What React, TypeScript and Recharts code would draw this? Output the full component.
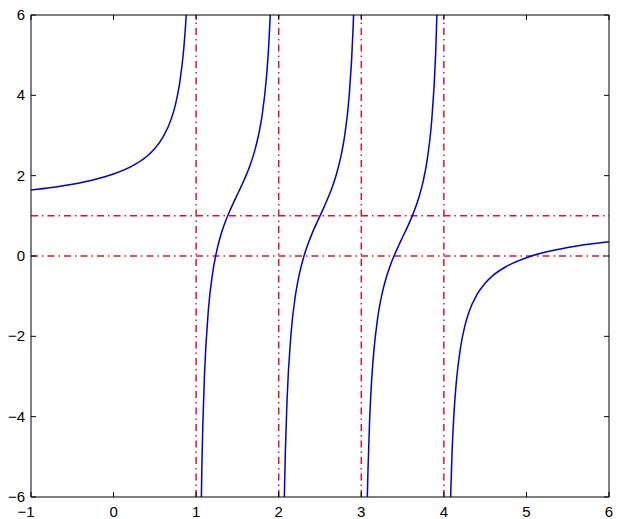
import React from "react";
import { LineChart, Line, XAxis, YAxis, ReferenceLine } from "recharts";

// x ticks, y ticks
const xTicks = [-1, 0, 1, 2, 3, 4, 5, 6];
const yTicks = [-6, -4, -2, 0, 2, 4, 6];

// vertical and horizontal guide lines
const verticalLines = [1, 2, 3, 4];
const horizontalLines = [0, 1];

// curve branches (x, y)
const branch1 = [
  { x: -1, y: 1.642 }, { x: -0.75, y: 1.706 }, { x: -0.5, y: 1.787 }, { x: -0.25, y: 1.894 },
  { x: 0, y: 2.042 }, { x: 0.25, y: 2.268 }, { x: 0.4, y: 2.477 }, { x: 0.5, y: 2.676 },
  { x: 0.6, y: 2.963 }, { x: 0.7, y: 3.42 }, { x: 0.75, y: 3.776 }, { x: 0.8, y: 4.3 },
  { x: 0.85, y: 5.159 }, { x: 0.88, y: 6.009 }, { x: 0.9, y: 6.854 }, { x: 0.92, y: 8.116 },
];
const branch2 = [
  { x: 1.05, y: -8.048 }, { x: 1.06, y: -6.374 }, { x: 1.07, y: -5.176 }, { x: 1.08, y: -4.275 },
  { x: 1.1, y: -3.009 }, { x: 1.15, y: -1.299 }, { x: 1.2, y: -0.419 }, { x: 1.25, y: 0.134 },
  { x: 1.3, y: 0.527 }, { x: 1.35, y: 0.832 }, { x: 1.4, y: 1.088 }, { x: 1.45, y: 1.317 },
  { x: 1.5, y: 1.533 }, { x: 1.55, y: 1.751 }, { x: 1.6, y: 1.982 }, { x: 1.65, y: 2.242 },
  { x: 1.7, y: 2.554 }, { x: 1.75, y: 2.956 }, { x: 1.8, y: 3.519 }, { x: 1.85, y: 4.413 },
  { x: 1.88, y: 5.281 }, { x: 1.9, y: 6.137 }, { x: 1.92, y: 7.41 }, { x: 1.93, y: 8.314 },
];
const branch3 = [
  { x: 2.06, y: -7.015 }, { x: 2.07, y: -5.814 }, { x: 2.08, y: -4.909 }, { x: 2.1, y: -3.636 },
  { x: 2.15, y: -1.91 }, { x: 2.2, y: -1.014 }, { x: 2.25, y: -0.448 }, { x: 2.3, y: -0.043 },
  { x: 2.35, y: 0.273 }, { x: 2.4, y: 0.539 }, { x: 2.45, y: 0.776 }, { x: 2.5, y: 1 },
  { x: 2.55, y: 1.224 }, { x: 2.6, y: 1.461 }, { x: 2.65, y: 1.727 }, { x: 2.7, y: 2.043 },
  { x: 2.75, y: 2.448 }, { x: 2.8, y: 3.014 }, { x: 2.85, y: 3.91 }, { x: 2.9, y: 5.636 },
  { x: 2.92, y: 6.909 }, { x: 2.94, y: 9.015 },
];
const branch4 = [
  { x: 3.06, y: -7.516 }, { x: 3.07, y: -6.314 }, { x: 3.08, y: -5.41 }, { x: 3.1, y: -4.137 },
  { x: 3.12, y: -3.281 }, { x: 3.15, y: -2.413 }, { x: 3.2, y: -1.519 }, { x: 3.25, y: -0.956 },
  { x: 3.3, y: -0.554 }, { x: 3.35, y: -0.242 }, { x: 3.4, y: 0.018 }, { x: 3.45, y: 0.249 },
  { x: 3.5, y: 0.467 }, { x: 3.55, y: 0.683 }, { x: 3.6, y: 0.912 }, { x: 3.65, y: 1.168 },
  { x: 3.7, y: 1.473 }, { x: 3.75, y: 1.866 }, { x: 3.8, y: 2.419 }, { x: 3.85, y: 3.299 },
  { x: 3.9, y: 5.009 }, { x: 3.92, y: 6.275 }, { x: 3.93, y: 7.176 },
];
const branch5 = [
  { x: 4.07, y: -7.015 }, { x: 4.08, y: -6.116 }, { x: 4.1, y: -4.854 }, { x: 4.12, y: -4.009 },
  { x: 4.15, y: -3.159 }, { x: 4.2, y: -2.3 }, { x: 4.25, y: -1.776 }, { x: 4.3, y: -1.42 },
  { x: 4.4, y: -0.963 }, { x: 4.5, y: -0.676 }, { x: 4.6, y: -0.477 }, { x: 4.75, y: -0.268 },
  { x: 5, y: -0.042 }, { x: 5.25, y: 0.106 }, { x: 5.5, y: 0.213 }, { x: 5.75, y: 0.294 },
  { x: 6, y: 0.358 },
];
const branches = [branch1, branch2, branch3, branch4, branch5];

const FONT = "'Liberation Sans', Arial, Helvetica, sans-serif";
const BLUE = "#0000d0";
const RED = "#dc1428";
const DASH = "7 4 1.5 4";
const TICK_LEN = 5;

const fmt = (v: number) => (v < 0 ? "\u2212" + Math.abs(v) : String(v));

const BottomTick = (props: any) => {
  const { x, y, payload } = props;
  return (
    <g>
      <line x1={x} x2={x} y1={y} y2={y - TICK_LEN} stroke="#000" strokeWidth={1} />
      <text
        x={x}
        y={y + 20}
        dx={payload.value < 0 ? -5 : 0}
        textAnchor="middle"
        fontSize={15}
        fontFamily={FONT}
        fill="#000"
      >
        {fmt(payload.value)}
      </text>
    </g>
  );
};
const LeftTick = (props: any) => {
  const { x, y, payload } = props;
  return (
    <g>
      <line x1={x} x2={x + TICK_LEN} y1={y} y2={y} stroke="#000" strokeWidth={1} />
      <text x={x - 6} y={y + 5} textAnchor="end" fontSize={15} fontFamily={FONT} fill="#000">
        {fmt(payload.value)}
      </text>
    </g>
  );
};
const TopTick = (props: any) => {
  const { x, y } = props;
  return <line x1={x} x2={x} y1={y} y2={y + TICK_LEN} stroke="#000" strokeWidth={1} />;
};
const RightTick = (props: any) => {
  const { x, y } = props;
  return <line x1={x} x2={x - TICK_LEN} y1={y} y2={y} stroke="#000" strokeWidth={1} />;
};

export default function App() {
  return (
    <div style={{ width: 617, height: 519, background: "#fff" }}>
      <style>{"body{margin:0}"}</style>
      <LineChart width={617} height={519} margin={{ top: 8, right: 0, bottom: 0, left: 8 }}>
        <XAxis
          xAxisId="b"
          orientation="bottom"
          type="number"
          dataKey="x"
          domain={[-1, 6]}
          ticks={xTicks}
          allowDataOverflow
          interval={0}
          height={22}
          tickSize={0}
          tickMargin={0}
          tickLine={false}
          tick={<BottomTick />}
          axisLine={{ stroke: "#000" }}
        />
        <XAxis
          xAxisId="t"
          orientation="top"
          type="number"
          dataKey="x"
          domain={[-1, 6]}
          ticks={xTicks}
          allowDataOverflow
          interval={0}
          height={7}
          tickSize={0}
          tickMargin={0}
          tickLine={false}
          tick={<TopTick />}
          axisLine={{ stroke: "#000" }}
        />
        <YAxis
          yAxisId="l"
          orientation="left"
          type="number"
          domain={[-6, 6]}
          ticks={yTicks}
          allowDataOverflow
          interval={0}
          width={23}
          tickSize={0}
          tickMargin={0}
          tickLine={false}
          tick={<LeftTick />}
          axisLine={{ stroke: "#000" }}
        />
        <YAxis
          yAxisId="r"
          orientation="right"
          type="number"
          domain={[-6, 6]}
          ticks={yTicks}
          allowDataOverflow
          interval={0}
          width={8}
          tickSize={0}
          tickMargin={0}
          tickLine={false}
          tick={<RightTick />}
          axisLine={{ stroke: "#000" }}
        />
        {verticalLines.map((v) => (
          <ReferenceLine
            key={"v" + v}
            x={v}
            xAxisId="b"
            yAxisId="l"
            stroke={RED}
            strokeWidth={1.5}
            strokeDasharray={DASH}
          />
        ))}
        {horizontalLines.map((h) => (
          <ReferenceLine
            key={"h" + h}
            y={h}
            xAxisId="b"
            yAxisId="l"
            stroke={RED}
            strokeWidth={1.5}
            strokeDasharray={DASH}
          />
        ))}
        {branches.map((b, i) => (
          <Line
            key={"b" + i}
            data={b}
            dataKey="y"
            xAxisId="b"
            yAxisId="l"
            type="monotone"
            stroke={BLUE}
            strokeWidth={1.5}
            dot={false}
            activeDot={false}
            isAnimationActive={false}
          />
        ))}
      </LineChart>
    </div>
  );
}
